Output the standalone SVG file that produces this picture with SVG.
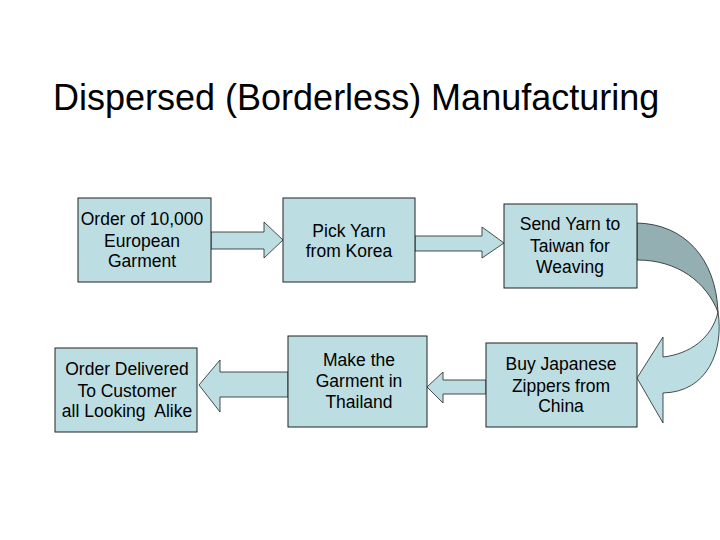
<svg xmlns="http://www.w3.org/2000/svg" width="720" height="540" viewBox="0 0 720 540">
<style>
.box{fill:#BCDEE2;stroke:#222;stroke-width:1}
.arr{fill:#BCDEE2;stroke:#222;stroke-width:0.8;stroke-linejoin:miter}
.dark{fill:#94AFB1;stroke:#222;stroke-width:0.8}
.t{font-family:"Liberation Sans",Arial,sans-serif;font-size:17.5px;fill:#000;text-anchor:middle}
.title{font-family:"Liberation Sans",Arial,sans-serif;font-size:36px;fill:#000}
</style>
<rect width="720" height="540" fill="#fff"/>
<text class="title" x="53" y="110">Dispersed (Borderless) Manufacturing</text>
<g id="connectors">
<polygon class="arr" points="211,232 264,232 264,222 283,240 264,258 264,249 211,249"/>
<polygon class="arr" points="415,236 482,236 482,227 504,243 482,258 482,251 415,251"/>
<path class="dark" d="M637,223 C684,224 716,258 718,312 C706,282 678,260 637,260 Z"/>
<path class="arr" d="M718,312 C724,350 708,392 663,393 L663,423 L637,378 L663,337 L663,357 C690,354 712,338 718,312 Z"/>
<polygon class="arr" points="486,380 443,380 443,372 427,387 443,403 443,394 486,394"/>
<polygon class="arr" points="288,372 220,372 220,360 199,385 220,412 220,397 288,397"/>
</g>
<g id="n1"><rect class="box" x="78" y="198" width="133" height="84"/>
<text class="t" x="142" y="225">Order of 10,000</text><text class="t" x="142" y="247">European</text><text class="t" x="142" y="267">Garment</text></g>
<g id="n2"><rect class="box" x="283" y="198" width="132" height="84"/>
<text class="t" x="349" y="237">Pick Yarn</text><text class="t" x="349" y="257">from Korea</text></g>
<g id="n3"><rect class="box" x="504" y="204" width="133" height="84"/>
<text class="t" x="570" y="230">Send Yarn to</text><text class="t" x="570" y="252">Taiwan for</text><text class="t" x="570" y="273">Weaving</text></g>
<g id="n4"><rect class="box" x="486" y="343" width="151" height="84"/>
<text class="t" x="561" y="370">Buy Japanese</text><text class="t" x="561" y="392">Zippers from</text><text class="t" x="561" y="412">China</text></g>
<g id="n5"><rect class="box" x="288" y="336" width="139" height="91"/>
<text class="t" x="359" y="366">Make the</text><text class="t" x="359" y="387">Garment in</text><text class="t" x="359" y="408">Thailand</text></g>
<g id="n6"><rect class="box" x="55" y="348" width="142" height="84"/>
<text class="t" x="127" y="375">Order Delivered</text><text class="t" x="127" y="397">To Customer</text><text class="t" x="127" y="417" style="white-space:pre">all Looking  Alike</text></g>
</svg>
